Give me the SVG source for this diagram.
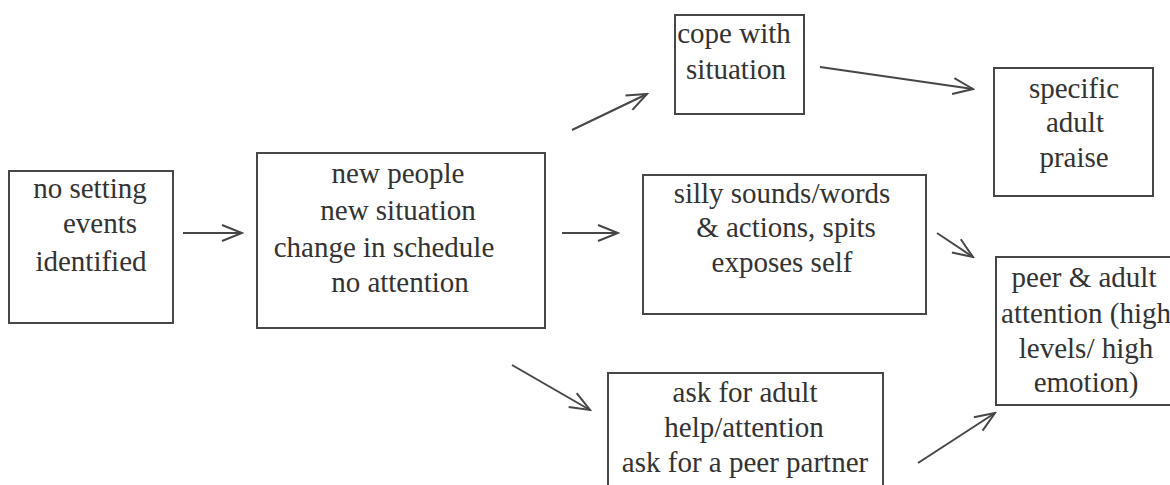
<svg xmlns="http://www.w3.org/2000/svg" width="1170" height="485" viewBox="0 0 1170 485">
<style>
.box{fill:#fff;stroke:#474747;stroke-width:2}
.t{font-family:"Liberation Serif","Times New Roman",serif;font-size:29px;fill:#333;text-anchor:middle}
.c{stroke:#474747;stroke-width:2;fill:none}
</style>
<defs>
<marker id="ah" viewBox="-22 -11 24 22" refX="0" refY="0" markerWidth="24" markerHeight="22" markerUnits="userSpaceOnUse" orient="auto">
<path d="M-20,-8 L0,0 L-20,8" fill="none" stroke="#474747" stroke-width="2"/>
</marker>
</defs>
<rect width="1170" height="485" fill="#fff"/>
<g id="n1">
<rect class="box" x="9" y="171" width="164" height="152"/>
<text class="t" x="90" y="198">no setting</text>
<text class="t" x="100" y="233">events</text>
<text class="t" x="91" y="271">identified</text>
</g>
<g id="n2">
<rect class="box" x="257" y="153" width="288" height="175"/>
<text class="t" x="398" y="183">new people</text>
<text class="t" x="398" y="220">new situation</text>
<text class="t" x="384" y="257">change in schedule</text>
<text class="t" x="400" y="292">no attention</text>
</g>
<g id="cope">
<rect class="box" x="675" y="15" width="129" height="99"/>
<text class="t" x="734" y="43">cope with</text>
<text class="t" x="736" y="79">situation</text>
</g>
<g id="silly">
<rect class="box" x="643" y="175" width="283" height="139"/>
<text class="t" x="782" y="203">silly sounds/words</text>
<text class="t" x="786" y="237">&amp; actions, spits</text>
<text class="t" x="782" y="272">exposes self</text>
</g>
<g id="ask">
<rect class="box" x="608" y="373" width="275" height="125"/>
<text class="t" x="745" y="402">ask for adult</text>
<text class="t" x="744" y="437">help/attention</text>
<text class="t" x="745" y="472">ask for a peer partner</text>
</g>
<g id="specific">
<rect class="box" x="994" y="68" width="159" height="128"/>
<text class="t" x="1074" y="98">specific</text>
<text class="t" x="1075" y="132">adult</text>
<text class="t" x="1074" y="167">praise</text>
</g>
<g id="peer">
<rect class="box" x="996" y="257" width="190" height="148"/>
<text class="t" x="1084" y="287">peer &amp; adult</text>
<text class="t" x="1086" y="323">attention (high</text>
<text class="t" x="1086" y="358">levels/ high</text>
<text class="t" x="1086" y="392">emotion)</text>
</g>
<g id="connectors">
<line class="c" x1="183" y1="233" x2="242" y2="233" marker-end="url(#ah)"/>
<line class="c" x1="562" y1="233" x2="618" y2="233" marker-end="url(#ah)"/>
<line class="c" x1="572" y1="130" x2="647" y2="94" marker-end="url(#ah)"/>
<line class="c" x1="512" y1="365" x2="590" y2="410" marker-end="url(#ah)"/>
<line class="c" x1="820" y1="67" x2="973" y2="89" marker-end="url(#ah)"/>
<line class="c" x1="937" y1="233" x2="973" y2="257" marker-end="url(#ah)"/>
<line class="c" x1="918" y1="463" x2="995" y2="413" marker-end="url(#ah)"/>
</g>
</svg>
